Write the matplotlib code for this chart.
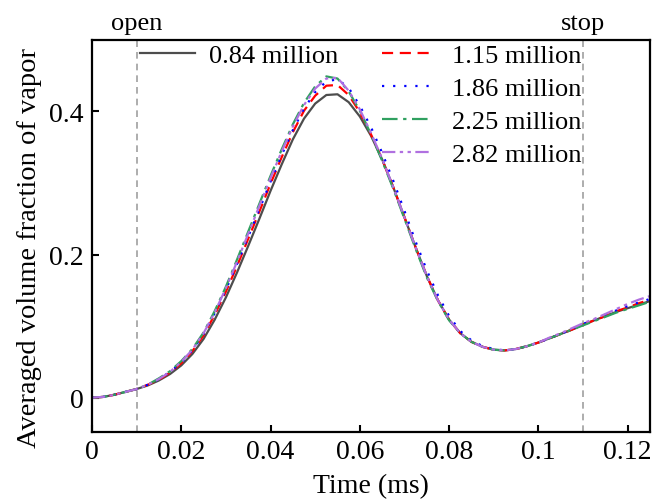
import matplotlib

matplotlib.use("Agg")

import matplotlib.pyplot as plt
import matplotlib.transforms as mtransforms
import numpy as np

plt.rcParams["font.family"] = ["Liberation Serif", "DejaVu Serif"]

# time in ms, step 0.0025
time_ms = np.arange(51) * 0.0025

vf_084 = [0.000, 0.001, 0.004, 0.008, 0.012, 0.017, 0.024, 0.033, 0.045, 0.061,
          0.082, 0.109, 0.140, 0.175, 0.212, 0.250, 0.289, 0.326, 0.361, 0.390,
          0.411, 0.423, 0.424, 0.413, 0.393, 0.366, 0.333, 0.294, 0.252, 0.210,
          0.170, 0.136, 0.109, 0.090, 0.078, 0.071, 0.067, 0.066, 0.068, 0.072,
          0.077, 0.083, 0.089, 0.095, 0.102, 0.108, 0.114, 0.120, 0.125, 0.130,
          0.135]
vf_115 = [0.000, 0.001, 0.004, 0.008, 0.012, 0.018, 0.025, 0.035, 0.048, 0.065,
          0.087, 0.116, 0.148, 0.184, 0.222, 0.260, 0.299, 0.336, 0.371, 0.401,
          0.422, 0.436, 0.437, 0.423, 0.399, 0.368, 0.333, 0.294, 0.252, 0.210,
          0.170, 0.136, 0.109, 0.090, 0.078, 0.071, 0.067, 0.066, 0.068, 0.072,
          0.077, 0.083, 0.089, 0.095, 0.102, 0.108, 0.114, 0.121, 0.126, 0.132,
          0.137]
vf_186 = [0.000, 0.001, 0.004, 0.008, 0.012, 0.018, 0.026, 0.036, 0.049, 0.066,
          0.089, 0.118, 0.151, 0.187, 0.225, 0.263, 0.302, 0.339, 0.374, 0.404,
          0.427, 0.442, 0.445, 0.433, 0.408, 0.378, 0.342, 0.303, 0.261, 0.218,
          0.178, 0.143, 0.114, 0.093, 0.080, 0.072, 0.068, 0.066, 0.068, 0.072,
          0.077, 0.083, 0.089, 0.096, 0.103, 0.109, 0.116, 0.122, 0.128, 0.133,
          0.138]
vf_225 = [0.000, 0.001, 0.004, 0.008, 0.012, 0.018, 0.027, 0.037, 0.051, 0.068,
          0.091, 0.121, 0.155, 0.193, 0.232, 0.271, 0.310, 0.347, 0.382, 0.412,
          0.435, 0.449, 0.446, 0.428, 0.401, 0.368, 0.331, 0.292, 0.250, 0.208,
          0.168, 0.135, 0.108, 0.090, 0.078, 0.071, 0.067, 0.066, 0.068, 0.072,
          0.077, 0.083, 0.089, 0.095, 0.101, 0.107, 0.113, 0.119, 0.124, 0.129,
          0.134]
vf_282 = [0.000, 0.001, 0.004, 0.008, 0.012, 0.018, 0.026, 0.036, 0.050, 0.067,
          0.090, 0.119, 0.153, 0.190, 0.229, 0.268, 0.307, 0.344, 0.379, 0.409,
          0.432, 0.446, 0.447, 0.429, 0.403, 0.370, 0.334, 0.294, 0.252, 0.210,
          0.170, 0.136, 0.109, 0.090, 0.078, 0.071, 0.067, 0.066, 0.068, 0.072,
          0.077, 0.084, 0.090, 0.097, 0.104, 0.110, 0.117, 0.124, 0.131, 0.137,
          0.142]

series = [
    ("0.84 million", vf_084, "#4d4d4d", "-"),
    ("1.15 million", vf_115, "#ff0000", (0, (5, 3))),
    ("1.86 million", vf_186, "#0000ff", (0, (1, 4))),
    ("2.25 million", vf_225, "#30a060", (0, (7, 2.5, 1.5, 2.5))),
    ("2.82 million", vf_282, "#b070e0", (0, (6, 2, 1.5, 2, 1.5, 2))),
]

markers_ms = [0.01, 0.11]
marker_text = ["open", "stop"]

fig = plt.figure(figsize=(6.52, 5.02), dpi=100)
ax = fig.add_axes([0.141, 0.1375, 0.856, 0.781])

lines = []
for label, vals, color, ls in series:
    (ln,) = ax.plot(time_ms, vals, color=color, linestyle=ls, linewidth=1.6, label=label)
    lines.append(ln)

trans = mtransforms.blended_transform_factory(ax.transData, ax.transAxes)
for xm, txt in zip(markers_ms, marker_text):
    ax.axvline(xm, color="#a0a0a0", linestyle=(0, (4, 3)), linewidth=1.2, zorder=0)
    ax.text(xm, 1.015, txt, transform=trans, ha="center", va="bottom", fontsize=19)

ax.set_xlim(0, 0.125)
ax.set_ylim(-0.048, 0.5)
ax.set_xticks([0, 0.02, 0.04, 0.06, 0.08, 0.1, 0.12])
ax.set_xticklabels(["0", "0.02", "0.04", "0.06", "0.08", "0.1", "0.12"])
ax.set_yticks([0, 0.2, 0.4])
ax.set_yticklabels(["0", "0.2", "0.4"])
ax.tick_params(direction="in", length=5, width=1.5, labelsize=20)
ax.tick_params(axis="x", pad=5)
ax.tick_params(axis="y", pad=6)
for sp in ax.spines.values():
    sp.set_linewidth(1.6)

ax.set_xlabel("Time (ms)", fontsize=20, labelpad=6.5)
ax.set_ylabel("Averaged volume fraction of vapor", fontsize=20.5)
ax.yaxis.set_label_coords(-0.09, 0.472)

leg1 = ax.legend(handles=lines[:1], loc="upper left", bbox_to_anchor=(0.086, 0.99),
                 frameon=False, fontsize=19, handlelength=2.1, handletextpad=0.5,
                 borderpad=0, borderaxespad=0)
ax.add_artist(leg1)
ax.legend(handles=lines[1:], loc="upper left", bbox_to_anchor=(0.52, 0.99),
          frameon=False, fontsize=19, handlelength=1.9, handletextpad=0.75,
          labelspacing=0.36, borderpad=0, borderaxespad=0)

fig.savefig("out.png", dpi=100)
